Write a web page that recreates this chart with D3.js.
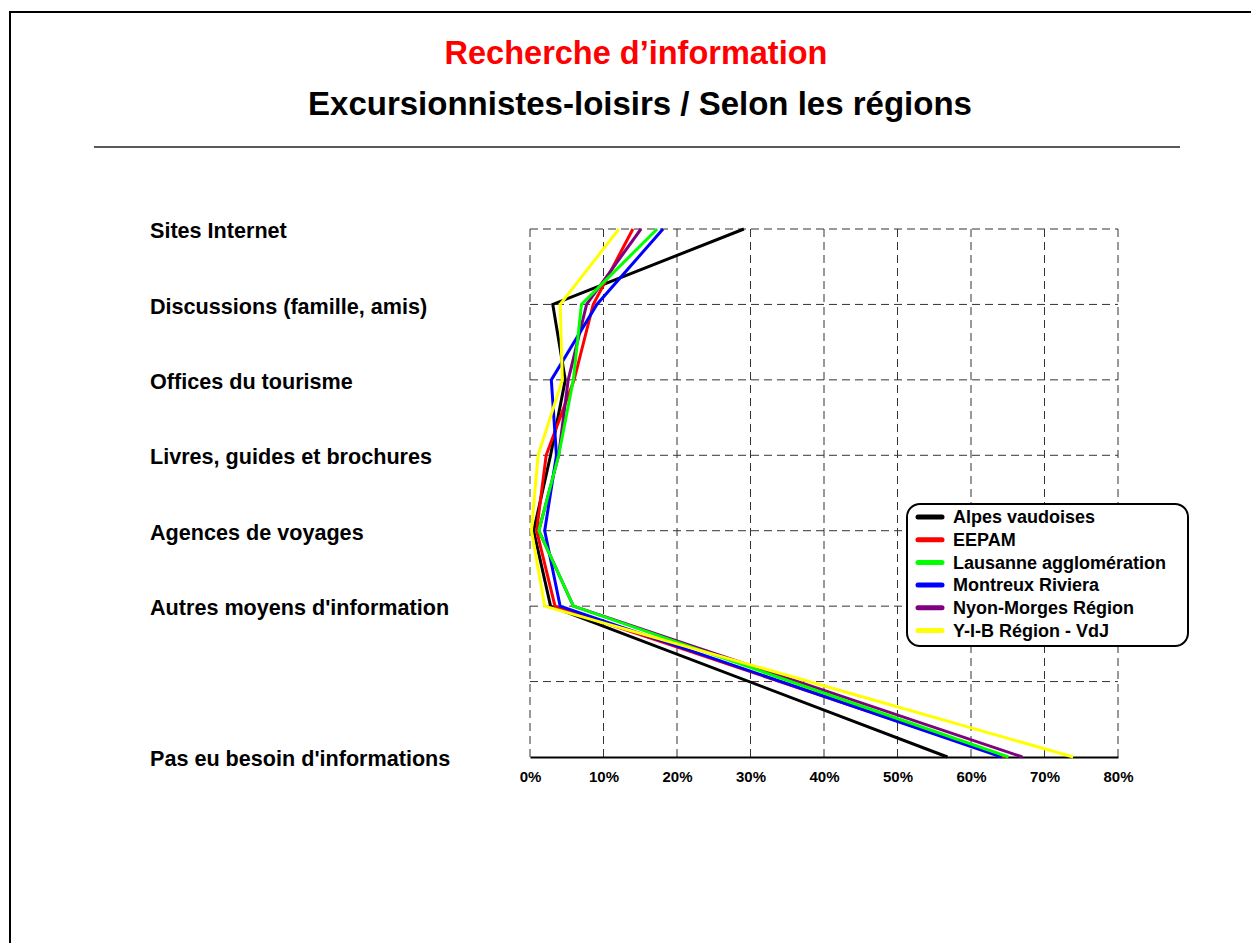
<!DOCTYPE html>
<html>
<head>
<meta charset="utf-8">
<script src="https://cdn.jsdelivr.net/npm/d3@7/dist/d3.min.js"></script>
<style>
  html, body { margin: 0; padding: 0; background: #fff; }
  svg { display: block; font-family: "Liberation Sans", Arial, sans-serif; }
</style>
</head>
<body>
<svg id="chart" width="1251" height="943"></svg>
<script>
// ---- Data ----
const categories = [
  "Sites Internet",
  "Discussions (famille, amis)",
  "Offices du tourisme",
  "Livres, guides et brochures",
  "Agences de voyages",
  "Autres moyens d'information",
  "",
  "Pas eu besoin d'informations"
];
const dataCategories = [
  "Sites Internet",
  "Discussions (famille, amis)",
  "Offices du tourisme",
  "Livres, guides et brochures",
  "Agences de voyages",
  "Autres moyens d'information",
  "Pas eu besoin d'informations"
];
const seriesNames = [
  "Alpes vaudoises",
  "EEPAM",
  "Lausanne agglomération",
  "Montreux Riviera",
  "Nyon-Morges Région",
  "Y-I-B Région - VdJ"
];
const seriesColors = ["#000000", "#ff0000", "#00ff00", "#0000ff", "#800080", "#ffff00"];
const alpesValues    = [29.1, 3.1, 4.8, 2.8, 0.5, 2.8, 56.8];
const eepamValues    = [14.0, 8.6, 6.0, 2.2, 0.9, 3.4, 64.6];
const lausanneValues = [17.3, 7.0, 5.9, 3.9, 1.2, 5.9, 65.1];
const montreuxValues = [18.1, 9.1, 2.9, 3.6, 2.0, 4.1, 64.2];
const nyonValues     = [15.1, 7.7, 5.2, 3.9, 1.2, 5.9, 67.0];
const yibValues      = [12.1, 4.1, 4.4, 1.1, 0.2, 2.0, 73.9];
const xTicks = [0, 10, 20, 30, 40, 50, 60, 70, 80];
const titleText = "Recherche d’information";
const subtitleText = "Excursionnistes-loisirs / Selon les régions";

(function () {
const seriesValues = [alpesValues, eepamValues, lausanneValues, montreuxValues, nyonValues, yibValues];
const series = seriesNames.map((name, i) => ({
  name, color: seriesColors[i],
  values: dataCategories.map((c, j) => ({ cat: c, v: seriesValues[i][j] }))
}));
// drawing order (some lines hidden beneath others as in the original)
const drawOrder = [0, 1, 4, 3, 2, 5];

// ---- Layout ----
const svg = d3.select("#chart");
const pL = 530, pR = 1118, pT = 229, pB = 757;

const x = d3.scaleLinear().domain([0, 80]).range([pL, pR]);
const y = d3.scalePoint().domain(categories.map((c, i) => i + "|" + c)).range([pT, pB]);
const yOf = c => y(categories.indexOf(c) + "|" + c);

// Frame
svg.append("path")
  .attr("d", `M10,${943 + 5} L10,12 L${1251 + 5},12`)
  .attr("fill", "none").attr("stroke", "#000").attr("stroke-width", 2);

// Titles
svg.append("text").attr("x", 636).attr("y", 64).attr("text-anchor", "middle")
  .attr("font-size", 32.5).attr("font-weight", "bold").attr("fill", "#ff0000").text(titleText);
svg.append("text").attr("x", 640).attr("y", 115).attr("text-anchor", "middle")
  .attr("font-size", 33).attr("font-weight", "bold").attr("fill", "#000").text(subtitleText);
svg.append("line").attr("x1", 94).attr("x2", 1180).attr("y1", 147).attr("y2", 147)
  .attr("stroke", "#222").attr("stroke-width", 1.5);

// Grid
const grid = svg.append("g").attr("stroke", "#333").attr("stroke-width", 1).attr("stroke-dasharray", "8,5");
grid.selectAll("line.v").data(xTicks).join("line").attr("class", "v")
  .attr("x1", d => x(d)).attr("x2", d => x(d)).attr("y1", pT).attr("y2", pB);
grid.selectAll("line.h").data(categories.slice(0, -1).map((c, i) => i + "|" + c)).join("line").attr("class", "h")
  .attr("x1", pL).attr("x2", pR).attr("y1", d => y(d)).attr("y2", d => y(d));

// X axis
const xAxis = d3.axisBottom(x).tickValues(xTicks).tickFormat(d => d + "%").tickSize(0).tickPadding(14);
const ax = svg.append("g").attr("transform", `translate(0,${pB})`).call(xAxis);
ax.select(".domain").attr("stroke", "#000").attr("stroke-width", 2);
ax.selectAll("text").attr("font-size", 15).attr("font-weight", "bold").attr("fill", "#000")
  .attr("font-family", "'Liberation Sans', Arial, sans-serif");

// Category labels (Y axis)
const yAxis = d3.axisLeft(y).tickFormat(d => d.split("|")[1]).tickSize(0).tickPadding(0);
const ay = svg.append("g").attr("transform", `translate(150,0)`).call(yAxis);
ay.select(".domain").remove();
ay.selectAll("text").attr("text-anchor", "start").attr("x", 0).attr("dy", "0.4em")
  .attr("font-size", 21.6).attr("font-weight", "bold").attr("fill", "#000")
  .attr("font-family", "'Liberation Sans', Arial, sans-serif");

// Lines
const line = d3.line().x(d => x(d.v)).y(d => yOf(d.cat));
svg.append("g").selectAll("path").data(drawOrder.map(i => series[i])).join("path")
  .attr("d", d => line(d.values))
  .attr("fill", "none").attr("stroke", d => d.color).attr("stroke-width", 3)
  .attr("stroke-linejoin", "miter");

// Legend
const lg = svg.append("g");
lg.append("rect").attr("x", 907).attr("y", 504).attr("width", 281).attr("height", 142)
  .attr("rx", 13).attr("ry", 13).attr("fill", "#fff").attr("stroke", "#000").attr("stroke-width", 2);
const items = lg.selectAll("g.item").data(series).join("g").attr("class", "item")
  .attr("transform", (d, i) => `translate(0,${517 + i * 22.7})`);
items.append("line").attr("x1", 918).attr("x2", 942).attr("y1", 0).attr("y2", 0)
  .attr("stroke", d => d.color).attr("stroke-width", 5).attr("stroke-linecap", "round");
items.append("text").attr("x", 953).attr("y", 0).attr("dy", "0.35em")
  .attr("font-size", 18).attr("font-weight", "bold").attr("fill", "#000").text(d => d.name);
})();
</script>
</body>
</html>
